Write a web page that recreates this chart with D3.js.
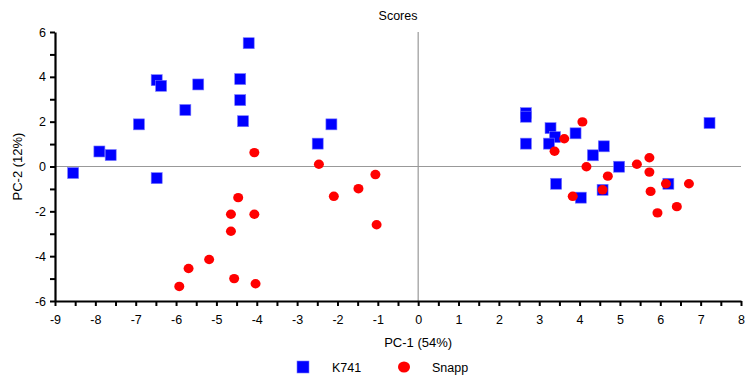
<!DOCTYPE html>
<html>
<head>
<meta charset="utf-8">
<script src="https://cdn.jsdelivr.net/npm/d3@7/dist/d3.min.js"></script>
<style>
  body { margin: 0; background: #fff; }
  svg { display: block; font-family: "Liberation Sans", Arial, sans-serif; }
</style>
</head>
<body>
<svg id="chart" width="745" height="383"></svg>
<script>
// K741 scores (PC-1, PC-2)
const k741X = [-8.55, -7.9, -7.62, -6.92, -6.48, -6.37, -5.45, -5.77, -4.41, -4.41, -4.34, -4.2, -6.48, -2.15, -2.49,
  2.67, 2.67, 2.67, 3.28, 3.39, 3.24, 3.9, 4.6, 4.33, 4.98, 3.42, 4.57, 4.03, 6.2, 7.22];
const k741Y = [-0.29, 0.67, 0.51, 1.88, 3.85, 3.6, 3.66, 2.52, 3.9, 2.96, 2.02, 5.5, -0.52, 1.88, 1.02,
  2.38, 2.22, 1.02, 1.71, 1.31, 1.02, 1.48, 0.9, 0.5, -0.01, -0.77, -1.04, -1.39, -0.77, 1.94];
// Snapp scores
const snappX = [-4.06, -2.46, -1.06, -1.48, -2.09, -1.03, -4.46, -4.64, -4.06, -4.64, -5.18, -5.69, -4.56, -4.03, -5.92,
  4.07, 3.62, 3.38, 4.17, 5.42, 5.73, 5.73, 4.7, 4.57, 3.83, 5.76, 6.14, 6.71, 6.41, 5.93];
const snappY = [0.62, 0.1, -0.36, -0.99, -1.33, -2.6, -1.39, -2.13, -2.13, -2.89, -4.15, -4.55, -5.0, -5.23, -5.35,
  1.99, 1.24, 0.68, -0.01, 0.1, 0.39, -0.25, -0.43, -1.04, -1.33, -1.11, -0.77, -0.77, -1.79, -2.07];
const yTicks = [-6, -4, -2, 0, 2, 4, 6];

const svg = d3.select('#chart');
const mLeft = 55, mRight = 741, mTop = 32, mBottom = 301;

const x = d3.scaleLinear().domain([-9, 8]).range([mLeft, mRight]);
const y = d3.scaleLinear().domain([-6, 6]).range([mBottom, mTop]);

// title
svg.append('text')
  .attr('x', 398).attr('y', 20)
  .attr('text-anchor', 'middle')
  .style('font-size', '12.5px')
  .text('Scores');

// zero lines
svg.append('line')
  .attr('x1', x(0)).attr('x2', x(0))
  .attr('y1', mTop).attr('y2', mBottom)
  .attr('stroke', '#999').attr('stroke-width', 1.2);
svg.append('line')
  .attr('x1', mLeft).attr('x2', mRight)
  .attr('y1', y(0)).attr('y2', y(0))
  .attr('stroke', '#999').attr('stroke-width', 1.2);

// x axis: minor ticks at halves, labels on integers
const xAxis = svg.append('g')
  .attr('transform', `translate(0,${mBottom})`)
  .call(d3.axisBottom(x).tickValues(d3.range(-9, 8.01, 0.5)).tickSize(5).tickSizeOuter(0)
    .tickFormat(d => Number.isInteger(d) ? String(d) : ''));
xAxis.select('.domain').attr('stroke', '#000').attr('stroke-width', 2.2);
xAxis.selectAll('.tick line').attr('stroke', '#000').attr('stroke-width', 2);
xAxis.selectAll('.tick text').style('font-size', '12.5px').attr('fill', '#000').attr('y', 14);

// y axis: ticks every unit, labels every 2
const yAxis = svg.append('g')
  .attr('transform', `translate(${mLeft},0)`)
  .call(d3.axisLeft(y).tickValues(d3.range(-6, 6.01, 1)).tickSize(5).tickSizeOuter(0)
    .tickFormat(d => yTicks.includes(d) ? String(d) : ''));
yAxis.select('.domain').attr('stroke', '#000').attr('stroke-width', 2.2);
yAxis.selectAll('.tick line').attr('stroke', '#000').attr('stroke-width', 2);
yAxis.selectAll('.tick text').style('font-size', '12.5px').attr('fill', '#000').attr('x', -9);

// axis titles
svg.append('text')
  .attr('x', x(0)).attr('y', 347)
  .attr('text-anchor', 'middle')
  .style('font-size', '13px')
  .text('PC-1 (54%)');
svg.append('text')
  .attr('transform', `translate(22,${y(0)}) rotate(-90)`)
  .attr('text-anchor', 'middle')
  .style('font-size', '13px')
  .text('PC-2 (12%)');

// points
const sq = 11;
svg.append('g').selectAll('rect')
  .data(k741X.map((v, i) => [v, k741Y[i]]))
  .join('rect')
  .attr('x', d => x(d[0]) - sq / 2)
  .attr('y', d => y(d[1]) - sq / 2)
  .attr('width', sq).attr('height', sq)
  .attr('fill', '#0000ff')
  .attr('stroke', '#7777ff').attr('stroke-width', 0.6);

svg.append('g').selectAll('ellipse')
  .data(snappX.map((v, i) => [v, snappY[i]]))
  .join('ellipse')
  .attr('cx', d => x(d[0]))
  .attr('cy', d => y(d[1]))
  .attr('rx', 5).attr('ry', 4.7)
  .attr('fill', '#ff0000');

// legend
const lg = svg.append('g');
lg.append('rect').attr('x', 297).attr('y', 361).attr('width', 12).attr('height', 12)
  .attr('fill', '#0000ff').attr('stroke', '#7777ff').attr('stroke-width', 0.6);
lg.append('text').attr('x', 332).attr('y', 372).style('font-size', '12.5px').text('K741');
lg.append('ellipse').attr('cx', 404).attr('cy', 367).attr('rx', 6).attr('ry', 5.6).attr('fill', '#ff0000');
lg.append('text').attr('x', 432).attr('y', 372).style('font-size', '12.5px').text('Snapp');
</script>
</body>
</html>
